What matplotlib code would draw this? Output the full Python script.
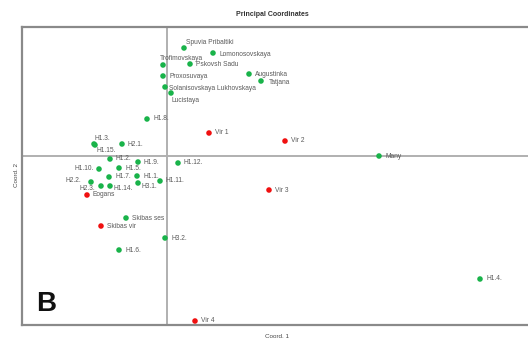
import matplotlib
matplotlib.use("Agg")
import matplotlib.pyplot as plt

plt.rcParams['font.family'] = ['Liberation Sans', 'DejaVu Sans']

# Green group (cultivars / H lines)
green_names = ["Spuvia Pribaltiki", "Lomonosovskaya", "Trofimovskaya", "Pskovsh Sadu",
               "Proxosuvaya", "Augustinka", "Tatjana", "Solanisovskaya Lukhovskaya",
               "Lucistaya", "H1.8.", "H1.3.", "H1.15.", "H2.1.", "H1.2.", "H1.9.",
               "H1.12.", "H1.10.", "H1.5.", "H1.7.", "H1.1.", "H1.11.", "H2.2.",
               "H2.3.", "H1.14.", "H3.1.", "Skibas ses", "H3.2.", "H1.6.", "H1.4.", "Many"]
green_x = [0.17, 0.46, -0.04, 0.23, -0.04, 0.82, 0.94, -0.02, 0.04, -0.20, -0.73, -0.72,
           -0.45, -0.57, -0.29, 0.11, -0.68, -0.48, -0.58, -0.30, -0.07, -0.76, -0.66,
           -0.57, -0.29, -0.41, -0.02, -0.48, 3.13, 2.12]
green_y = [1.08, 1.03, 0.91, 0.92, 0.80, 0.82, 0.75, 0.69, 0.63, 0.37, 0.12, 0.11, 0.12,
           -0.03, -0.06, -0.07, -0.13, -0.12, -0.21, -0.20, -0.25, -0.26, -0.30, -0.30,
           -0.27, -0.62, -0.82, -0.94, -1.23, 0.00]

# Red group (wild)
red_names = ["Vir 1", "Vir 2", "Vir 3", "Vir 4", "Eogans", "Skibas vir"]
red_x = [0.42, 1.18, 1.02, 0.28, -0.80, -0.66]
red_y = [0.23, 0.15, -0.34, -1.65, -0.39, -0.70]

# label placement (pixels offset, alignment)
default_off = (6, 0, 'left')
special_off = {
    "Spuvia Pribaltiki": (2, 5, 'left'),
    "Lomonosovskaya": (7, -1, 'left'),
    "Trofimovskaya": (-3, 6, 'left'),
    "H1.3.": (1, 6, 'left'),
    "H1.15.": (2, -5, 'left'),
    "Lucistaya": (1, -7, 'left'),
    "Solanisovskaya Lukhovskaya": (4, -2, 'left'),
    "Tatjana": (8, -2, 'left'),
    "H1.10.": (-5, 0, 'right'),
    "H2.2.": (-10, 1, 'right'),
    "H2.3.": (-6, -3, 'right'),
    "H1.14.": (3, -3, 'left'),
    "H3.1.": (4, -4, 'left'),
}

W, H = 528, 341
fig = plt.figure(figsize=(W / 100, H / 100), dpi=100)
ax = fig.add_axes([22 / W, 1 - 325 / H, (531 - 22) / W, (325 - 27) / H])

ax.set_xlim(-1.45, 3.64)
ax.set_ylim(-1.69, 1.29)
ax.axhline(0, color='#b0b0b0', lw=1.4, zorder=1)
ax.axvline(0, color='#b0b0b0', lw=1.4, zorder=1)

ax.scatter(green_x, green_y, s=16, color='#19b34a', marker='o', edgecolors='none', zorder=3)
ax.scatter(red_x, red_y, s=16, color='#f01010', marker='o', edgecolors='none', zorder=3)

for names, xs, ys in ((green_names, green_x, green_y), (red_names, red_x, red_y)):
    for n, x, y in zip(names, xs, ys):
        dx, dy, ha = special_off.get(n, default_off)
        ax.annotate(n, (x, y), xytext=(dx, dy), textcoords='offset pixels',
                    fontsize=4.8, color='#5a5a5a', ha=ha, va='center', zorder=4)

for s in ax.spines.values():
    s.set_color('#8a8a8a')
    s.set_linewidth(1.6)
ax.set_xticks([])
ax.set_yticks([])

fig.text(272 / W, 1 - 15 / H, "Principal Coordinates", ha='center', va='center',
         fontsize=5, fontweight='bold', color='#333333')
fig.text(277 / W, 1 - 336 / H, "Coord. 1", ha='center', va='center', fontsize=4.5, color='#444444')
fig.text(17 / W, 1 - 175 / H, "Coord. 2", ha='center', va='center', fontsize=4.5,
         rotation=90, color='#444444')
fig.text(46 / W, 1 - 304 / H, "B", ha='center', va='center', fontsize=20,
         fontweight='bold', color='#111111')

fig.savefig("out.png", dpi=100)
